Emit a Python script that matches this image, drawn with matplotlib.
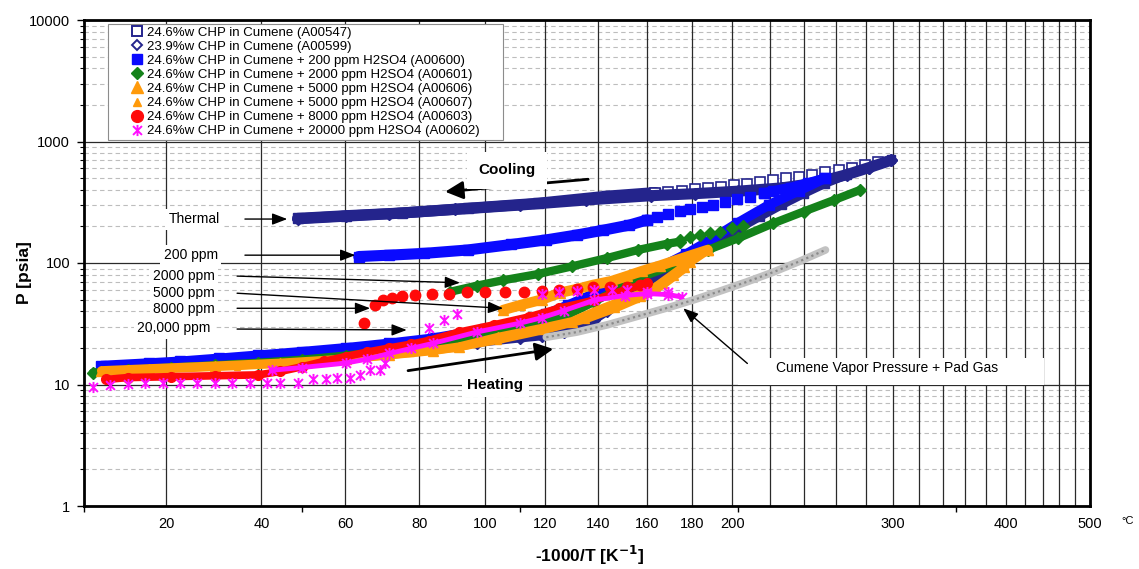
import matplotlib
matplotlib.use("Agg")
import matplotlib.pyplot as plt
from matplotlib.lines import Line2D
from matplotlib.patches import Rectangle
from matplotlib.path import Path

plt.rcParams['font.family'] = ['Liberation Sans', 'DejaVu Sans']

# x = -1000/T [1/K], p = pressure [psia]

# 24.6%w CHP in Cumene (A00547), thermal run
a547_heat_x = [-3.56, -3.45, -3.3, -3.15, -3.0, -2.9, -2.8, -2.7, -2.6, -2.55, -2.5, -2.46, -2.43,
               -2.4, -2.35, -2.3, -2.25, -2.2, -2.15, -2.1, -2.05, -2.0, -1.95, -1.9, -1.85, -1.8, -1.75]
a547_heat_p = [13.8, 14.5, 15.6, 16.8, 18.2, 19.3, 20.5, 22.5, 24.5, 25.5, 27.5, 31, 36,
               42, 55, 72, 92, 118, 150, 190, 240, 300, 370, 450, 530, 620, 720]
a547_cool_x = [-1.78, -1.81, -1.84, -1.87, -1.90, -1.93, -1.96, -1.99, -2.02, -2.05, -2.08, -2.11,
               -2.14, -2.17, -2.20, -2.23, -2.26, -2.29]
a547_cool_p = [675, 640, 610, 582, 558, 535, 515, 497, 480, 465, 450, 437,
               425, 414, 404, 395, 387, 380]
a547_tail_x = [-2.29, -2.4, -2.56, -2.72, -2.87, -3.0, -3.11]
a547_tail_p = [380, 355, 310, 282, 258, 245, 233]

# 23.9%w CHP in Cumene (A00599), thermal run
a599_heat_x = a547_heat_x
a599_heat_p = [13.5, 14.2, 15.3, 16.5, 17.9, 19.0, 20.2, 22.0, 24.0, 25.0, 27.0, 30, 34,
               40, 52, 70, 92, 120, 158, 205, 265, 330, 400, 470, 540, 610, 700]
a599_cool_x = [-1.75, -1.8, -1.85, -1.9, -1.95, -2.0, -2.1, -2.2, -2.3, -2.45, -2.6, -2.75, -2.9, -3.0, -3.11]
a599_cool_p = [700, 610, 535, 480, 440, 415, 390, 372, 358, 330, 300, 276, 254, 243, 231]

# + 200 ppm H2SO4 (A00600)
a600_heat_x = [-3.56, -3.45, -3.38, -3.29, -3.2, -3.1, -3.0, -2.9, -2.8, -2.68, -2.6, -2.54, -2.49,
               -2.43, -2.36, -2.28, -2.22, -2.17, -2.1, -2.03, -1.96, -1.9]
a600_heat_p = [14.3, 15.0, 15.5, 16.4, 17.4, 18.6, 20.0, 21.8, 24.0, 28.5, 32.5, 38, 45,
               56, 71, 92, 118, 150, 215, 300, 395, 500]
a600_top_x = [-1.9, -1.94, -1.98, -2.02, -2.042]
a600_top_p = [500, 455, 418, 392, 375]
a600_cool_x = [-2.042, -2.072, -2.102, -2.130, -2.157, -2.183, -2.210, -2.233, -2.260, -2.286, -2.309]
a600_cool_p = [375, 351, 334, 318, 300, 290, 280, 269, 253, 237, 226]
a600_tail_x = [-2.309, -2.35, -2.41, -2.47, -2.54, -2.62, -2.72, -2.82, -2.9, -2.97]
a600_tail_p = [226, 205, 186, 170, 155, 142, 128, 120, 116, 113]

# + 2000 ppm H2SO4 (A00601)
a601_heat_x = [-3.58, -3.5, -3.4, -3.3, -3.2, -3.1, -3.0, -2.9, -2.8, -2.7, -2.6, -2.5, -2.43,
               -2.38, -2.33, -2.25, -2.17, -2.1, -2.02, -1.95, -1.88, -1.82]
a601_heat_p = [12.5, 13.2, 13.8, 14.4, 15.1, 16.0, 17.3, 19.0, 21.0, 24.0, 28.5, 36, 48,
               60, 75, 95, 128, 160, 212, 265, 330, 400]
a601_cool_x = [-2.089, -2.114, -2.141, -2.164, -2.187, -2.210, -2.233]
a601_cool_p = [201, 193, 181, 176, 169, 165, 155]
a601_tail_x = [-2.233, -2.263, -2.33, -2.40, -2.48, -2.56, -2.64, -2.70, -2.76]
a601_tail_p = [150, 144, 128, 110, 94, 81, 72, 65, 58]

# + 5000 ppm H2SO4 (A00606)
a606_heat_x = [-3.56, -3.45, -3.3, -3.15, -3.0, -2.9, -2.8, -2.74, -2.65, -2.55, -2.48, -2.42,
               -2.34, -2.29, -2.25, -2.21, -2.17]
a606_heat_p = [13.0, 13.5, 14.2, 15.0, 16.2, 17.5, 19.0, 20.4, 24.5, 29, 33, 41,
               53, 63, 80, 102, 128]
a606_cool_x = [-2.17, -2.21, -2.24, -2.28, -2.32, -2.355, -2.39, -2.433, -2.47, -2.508, -2.55, -2.6, -2.639]
a606_cool_p = [128, 115, 106, 95, 86, 78, 71, 66, 61, 57, 50, 45, 41]

# + 5000 ppm H2SO4 (A00607)
a607_x = [-3.55, -3.4, -3.25, -3.1, -2.95, -2.85, -2.75, -2.65, -2.55, -2.45, -2.38, -2.32, -2.27, -2.22]
a607_p = [12.7, 13.3, 14.0, 15.0, 16.6, 18.0, 19.8, 23, 27.5, 34, 42, 52, 66, 90]

# + 8000 ppm H2SO4 (A00603)
a603_heat_x = [-3.55, -3.5, -3.4, -3.3, -3.2, -3.15, -3.1, -3.05, -3.0, -2.95, -2.9, -2.85,
               -2.81, -2.74, -2.66, -2.58, -2.51, -2.43, -2.36, -2.31]
a603_heat_p = [11.0, 11.4, 11.6, 11.8, 12.0, 12.8, 14.0, 15.5, 17.0, 18.5, 20.0, 21.5,
               23, 27, 31, 36, 42.5, 49.5, 60, 68]
a603_cool_x = [-2.325, -2.355, -2.394, -2.433, -2.47, -2.512, -2.55, -2.592, -2.634, -2.68,
               -2.722, -2.764, -2.803, -2.841, -2.871, -2.894, -2.914, -2.933, -2.959]
a603_cool_p = [65.8, 63.5, 63.5, 63.5, 61.6, 60, 58.5, 58, 58, 58,
               57.5, 56, 56, 55, 53.5, 51.5, 49.5, 45, 32]

# + 20000 ppm H2SO4 (A00602)
a602_low_x = [-3.58, -3.54, -3.50, -3.46, -3.42, -3.38, -3.34, -3.30, -3.26, -3.22, -3.18,
              -3.15, -3.11, -3.075, -3.045, -3.02, -2.99, -2.967, -2.944, -2.921, -2.91]
a602_low_p = [9.6, 9.9, 10.1, 10.2, 10.2, 10.2, 10.2, 10.2, 10.2, 10.2, 10.2,
              10.2, 10.2, 11.2, 11.2, 11.4, 11.4, 12.0, 13.1, 13.1, 14.9]
a602_heat_x = [-3.17, -3.1, -3.0, -2.95, -2.9, -2.85, -2.8, -2.7, -2.6, -2.55, -2.5, -2.43,
               -2.36, -2.31, -2.26, -2.23]
a602_heat_p = [13.1, 13.8, 15.0, 16.2, 18.0, 19.8, 21.8, 27, 32, 35.5, 40.5, 49.5,
               54, 56, 55, 52.5]
a602_cool_x = [-2.26, -2.31, -2.355, -2.39, -2.43, -2.47, -2.51, -2.55, -2.745, -2.775, -2.808]
a602_cool_p = [58, 58, 60, 60, 60, 59, 58, 56, 38, 34, 29]

# Cumene vapour pressure + pad gas
vp_x = [-2.54, -2.47, -2.4, -2.33, -2.26, -2.2, -2.14, -2.08, -2.02, -1.96, -1.9]
vp_p = [24.5, 27, 31, 36.5, 43, 50, 59, 70, 84, 103, 128]

legend_labels = [
    "24.6%w CHP in Cumene (A00547)",
    "23.9%w CHP in Cumene (A00599)",
    "24.6%w CHP in Cumene + 200 ppm H2SO4 (A00600)",
    "24.6%w CHP in Cumene + 2000 ppm H2SO4 (A00601)",
    "24.6%w CHP in Cumene + 5000 ppm H2SO4 (A00606)",
    "24.6%w CHP in Cumene + 5000 ppm H2SO4 (A00607)",
    "24.6%w CHP in Cumene + 8000 ppm H2SO4 (A00603)",
    "24.6%w CHP in Cumene + 20000 ppm H2SO4 (A00602)",
]

label_temps = [20, 40, 60, 80, 100, 120, 140, 160, 180, 200, 300, 400, 500]
grid_temps = list(range(20, 501, 20))

NAVY = '#24248c'
BLUE = '#0a0aff'
GREEN = '#14821a'
ORANGE = '#ff9a0a'
RED = '#ff0a0a'
PINK = '#ff10ff'

# asterisk: an x with a vertical bar
star = Path([(-1, -1), (1, 1), (-1, 1), (1, -1), (0, -1.25), (0, 1.25)],
            [Path.MOVETO, Path.LINETO, Path.MOVETO, Path.LINETO, Path.MOVETO, Path.LINETO])

fig = plt.figure(figsize=(11.39, 5.69), dpi=100)
ax = fig.add_axes([84 / 1139, 63 / 569, 1006 / 1139, 486 / 569])
ax.set_yscale('log')
ax.set_xlim(-3.6, -1.2934)
ax.set_ylim(1, 10000)


def band(x, p, color, marker, ms, lw, z, mfc=None):
    ax.plot(x, p, color=color, lw=lw, marker=marker, ms=ms, mfc=mfc or color,
            mec=color, solid_capstyle='round', solid_joinstyle='round', zorder=z)


def dots(x, p, color, marker, ms, z, mfc=None, mew=1.0):
    ax.plot(x, p, ls='none', color=color, marker=marker, ms=ms, mfc=mfc or color,
            mec=color, mew=mew, zorder=z)


# thermal runs
band(a547_heat_x, a547_heat_p, NAVY, 's', 6, 6, 2.0)
band(a547_tail_x, a547_tail_p, NAVY, 's', 7, 8, 2.0)
dots(a547_cool_x, a547_cool_p, NAVY, 's', 6.5, 2.0, 'white', 1.2)
band(a599_heat_x, a599_heat_p, NAVY, 'D', 6, 6, 2.1)
band(a599_cool_x, a599_cool_p, NAVY, 'D', 6.5, 8, 2.1)

# 200 ppm
band(a600_heat_x, a600_heat_p, BLUE, 's', 6.5, 7, 2.2)
band(a600_top_x, a600_top_p, BLUE, 's', 6.5, 7, 2.2)
dots(a600_cool_x, a600_cool_p, BLUE, 's', 7, 2.2)
band(a600_tail_x, a600_tail_p, BLUE, 's', 7, 8, 2.2)

# 2000 ppm
band(a601_heat_x, a601_heat_p, GREEN, 'D', 6, 6, 2.3)
dots(a601_cool_x, a601_cool_p, GREEN, 'D', 6.5, 2.3)
band(a601_tail_x, a601_tail_p, GREEN, 'D', 6, 6, 2.3)

# 5000 ppm
band(a606_heat_x, a606_heat_p, ORANGE, '^', 7.5, 6.5, 2.4)
band(a606_cool_x, a606_cool_p, ORANGE, '^', 7.5, 7.5, 2.4)
band(a607_x, a607_p, ORANGE, '^', 5, 5, 2.5)

# 8000 ppm
band(a603_heat_x, a603_heat_p, RED, 'o', 7, 5.5, 2.6)
dots(a603_cool_x, a603_cool_p, RED, 'o', 7.5, 2.6)

# 20000 ppm
dots(a602_low_x, a602_low_p, PINK, star, 8, 2.7, 'none', 1.4)
ax.plot(a602_heat_x, a602_heat_p, color=PINK, lw=3.5, marker=star, ms=8, mfc='none',
        mec=PINK, mew=1.4, zorder=2.7)
dots(a602_cool_x, a602_cool_p, PINK, star, 8, 2.7, 'none', 1.4)

# vapour pressure band
ax.plot(vp_x, vp_p, color='#c2c2c2', lw=5.5, solid_capstyle='round', zorder=2.9)
ax.plot(vp_x, vp_p, color='#8a8a8a', lw=1.6, ls=(0, (1, 1.5)), zorder=2.95)

# grid
for t in grid_temps:
    ax.axvline(-1000 / (t + 273.15), color='#2a2a2a', lw=0.9, zorder=0.6)
ax.set_axisbelow(True)
ax.grid(True, axis='y', which='major', color='#2a2a2a', lw=0.9)
ax.grid(True, axis='y', which='minor', color='#bdbdbd', lw=0.8, ls=(0, (4, 3)))
ax.grid(False, axis='x')

# axes and ticks
for s in ax.spines.values():
    s.set_linewidth(2.0)
ax.set_xticks([-3.6, -3.1, -2.6, -2.1, -1.6])
ax.set_xticklabels([])
ax.set_xticks([-1000 / (t + 273.15) for t in label_temps],
              labels=[str(t) for t in label_temps], minor=True)
ax.tick_params(axis='x', which='major', direction='out', length=4, width=1)
ax.tick_params(axis='x', which='minor', length=0, pad=8, labelsize=10.5)
ax.set_yticks([1, 10, 100, 1000, 10000], labels=['1', '10', '100', '1000', '10000'])
ax.tick_params(axis='y', which='major', direction='out', length=5, width=1, pad=5, labelsize=10.5)
ax.tick_params(axis='y', which='minor', direction='out', length=3, width=0.8)
ax.yaxis.set_minor_formatter(plt.NullFormatter())

ax.set_ylabel('P [psia]', fontsize=12.5, fontweight='bold')
ax.yaxis.set_label_coords(-0.052, 0.48)
ax.set_xlabel('-1000/T [K$^{\\mathbf{-1}}$]', fontsize=12.5, fontweight='bold')
ax.xaxis.set_label_coords(0.503, -0.078)
ax.text(1.037, -0.031, '°C', transform=ax.transAxes, fontsize=8, ha='center', va='center')

# annotations
thin = dict(arrowstyle='-|>,head_length=0.65,head_width=0.25', color='black', lw=1.0,
            mutation_scale=14, shrinkA=0, shrinkB=0)
thick = dict(arrowstyle='-|>,head_length=0.6,head_width=0.3', color='black', lw=2.0,
             mutation_scale=18, shrinkA=0, shrinkB=0)
box = dict(boxstyle='square,pad=0.25', fc='white', ec='none')

notes = [
    ('Thermal', (-3.348, 230), (-3.231, 230), (-3.134, 230)),
    ('200 ppm', (-3.355, 116), (-3.231, 116), (-2.978, 116)),
    ('2000 ppm', (-3.371, 78), (-3.249, 78), (-2.738, 68.8)),
    ('5000 ppm', (-3.371, 56.6), (-3.249, 56.4), (-2.639, 42.4)),
    ('8000 ppm', (-3.371, 41.8), (-3.249, 42.4), (-2.944, 42.4)),
    ('20,000 ppm', (-3.394, 29.0), (-3.249, 28.6), (-2.860, 28.1)),
]
for txt, pos, tail, head in notes:
    ax.annotate('', xy=head, xytext=tail, arrowprops=thin, zorder=6)
    ax.text(pos[0], pos[1], txt, fontsize=10, ha='center', va='center', bbox=box, zorder=6)

ax.annotate('', xy=(-2.524, 19.6), xytext=(-2.857, 13.0), arrowprops=thick, zorder=6)
ax.text(-2.657, 9.9, 'Heating', fontsize=11, fontweight='bold', ha='center', va='center',
        bbox=dict(boxstyle='square,pad=0.35', fc='white', ec='none'), zorder=6)
ax.annotate('', xy=(-2.772, 386), xytext=(-2.444, 489), arrowprops=thick, zorder=6)
ax.text(-2.630, 582, 'Cooling', fontsize=11, fontweight='bold', ha='center', va='center',
        bbox=dict(boxstyle='square,pad=0.75', fc='white', ec='none'), zorder=6.5)

ax.add_patch(Rectangle((-2.10, 9.9), 0.70, 6.6, fc='white', ec='none', zorder=6))
ax.annotate('', xy=(-2.226, 42.4), xytext=(-2.079, 14.9), arrowprops=thin, zorder=6.5)
ax.text(-1.758, 13.7, 'Cumene Vapor Pressure + Pad Gas', fontsize=10, ha='center',
        va='center', zorder=6.5)

# legend
ax.add_patch(Rectangle((0.0239, 0.753), 0.3926, 0.2387, transform=ax.transAxes,
                       fc='white', ec='#8c8c8c', lw=0.8, zorder=7))
handles = [
    Line2D([], [], ls='none', marker='s', ms=7, mfc='white', mec=NAVY, mew=1.4),
    Line2D([], [], ls='none', marker='D', ms=5.5, mfc='white', mec=NAVY, mew=1.4),
    Line2D([], [], ls='none', marker='s', ms=7, color=BLUE),
    Line2D([], [], ls='none', marker='D', ms=6.5, color=GREEN),
    Line2D([], [], ls='none', marker='^', ms=9, color=ORANGE),
    Line2D([], [], ls='none', marker='^', ms=6, color=ORANGE),
    Line2D([], [], ls='none', marker='o', ms=8.5, color=RED),
    Line2D([], [], ls='none', marker=star, ms=8, mfc='none', mec=PINK, mew=1.4),
]
leg = ax.legend(handles, legend_labels, loc='upper left', bbox_to_anchor=(0.0457, 0.986),
                frameon=False, fontsize=9.5, borderaxespad=0, borderpad=0, handlelength=1.0,
                handletextpad=0.3, labelspacing=0.135)
leg.set_zorder(8)

fig.savefig('out.png', dpi=100)
